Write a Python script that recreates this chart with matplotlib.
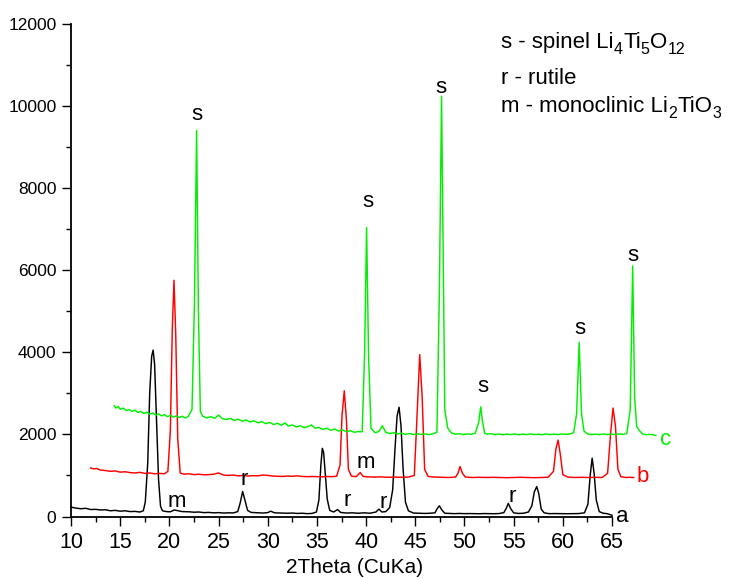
import matplotlib
matplotlib.use("Agg")
import matplotlib.pyplot as plt
from matplotlib.ticker import MultipleLocator

plt.rcParams['font.family'] = ['Liberation Sans', 'DejaVu Sans']

# ---- data ----
a_x = [10.0, 10.5, 11.0, 11.5, 12.0, 12.5, 13.0, 13.5, 14.0, 14.5, 15.0, 15.5, 16.0, 16.5, 17.0, 17.35,
       17.55, 17.8, 18.0, 18.2, 18.35, 18.5, 18.7, 18.9, 19.1, 19.3, 19.7, 20.1, 20.5, 20.9, 21.3,
       22.0, 22.5, 23.0, 23.5, 24.0, 24.5, 25.0, 25.5, 26.0, 26.5, 26.95, 27.2, 27.45, 27.7, 27.95, 28.3,
       29.0, 29.5, 30.0, 30.3, 30.7, 31.5, 32.0, 32.5, 33.0, 33.5, 34.0, 34.5, 34.95, 35.2, 35.4, 35.55,
       35.68, 35.85, 36.05, 36.3, 36.7, 37.1, 37.4, 38.0, 38.6, 39.2, 39.8, 40.4, 41.0, 41.3, 41.6, 42.0,
       42.4, 42.7, 42.95, 43.15, 43.35, 43.55, 43.75, 44.0, 44.3, 44.8, 45.5, 46.0, 46.5, 47.0, 47.25,
       47.45, 47.7, 48.0, 48.5, 49.0, 49.5, 50.0, 50.5, 51.0, 51.5, 52.0, 52.5, 53.0, 53.5, 54.0, 54.25,
       54.45, 54.7, 55.0, 55.5, 56.0, 56.5, 56.85, 57.1, 57.35, 57.55, 57.8, 58.1, 58.6, 59.2, 59.8, 60.4,
       61.0, 61.6, 62.2, 62.55, 62.78, 62.98, 63.18, 63.4, 63.7, 64.1, 64.5, 65.0]
a_y = [230, 205, 190, 200, 170, 175, 160, 165, 140, 150, 130, 140, 120, 125, 110, 140,
       350, 1300, 3000, 3900, 4050, 3700, 2300, 900, 250, 140, 120, 115, 160, 140, 120,
       115, 105, 110, 95, 100, 90, 95, 85, 90, 88, 120, 330, 610, 380, 150, 100,
       90, 85, 95, 130, 90, 85, 80, 85, 75, 80, 70, 75, 110, 400, 1250, 1660,
       1560, 1050, 420, 150, 110, 170, 100, 85, 90, 80, 90, 80, 110, 180, 110, 120,
       220, 650, 1700, 2450, 2660, 2200, 1200, 350, 140, 85, 80, 75, 80, 90, 200,
       260, 160, 80, 75, 70, 75, 70, 72, 70, 68, 72, 70, 68, 72, 95, 200,
       320, 190, 90, 75, 80, 110, 260, 600, 730, 560, 180, 90, 70, 72, 70, 68,
       70, 72, 90, 300, 1000, 1420, 1050, 400, 120, 80, 70, 30]

b_x = [12.0, 12.3, 12.6, 13.0, 13.5, 14.0, 14.5, 15.0, 15.5, 16.0, 16.5, 17.0, 17.5, 18.0, 18.5, 19.0,
       19.5, 19.85, 20.1, 20.3, 20.47, 20.65, 20.85, 21.1, 21.5, 22.0, 22.5, 23.0, 23.5, 24.0, 24.5, 25.0,
       25.5, 26.0, 26.5, 27.0, 27.5, 28.0, 28.5, 29.0, 29.5, 30.0, 30.5, 31.0, 31.5, 32.0, 32.5, 33.0, 33.5,
       34.0, 34.5, 35.0, 35.5, 36.0, 36.5, 37.0, 37.35, 37.55, 37.78, 38.0, 38.2, 38.5, 39.0, 39.4, 39.7,
       40.2, 40.8, 41.5, 42.2, 42.9, 43.6, 44.3, 44.9, 45.15, 45.45, 45.7, 45.95, 46.3, 47.0, 47.7, 48.4,
       49.1, 49.35, 49.55, 49.8, 50.1, 50.8, 51.5, 52.2, 52.9, 53.6, 54.3, 55.0, 55.7, 56.4, 57.1, 57.8,
       58.5, 59.05, 59.3, 59.52, 59.75, 60.0, 60.5, 61.2, 61.9, 62.6, 63.3, 64.0, 64.55, 64.85, 65.1,
       65.35, 65.6, 65.9, 66.4, 66.8, 67.2]
b_y = [1180, 1160, 1170, 1130, 1120, 1100, 1110, 1080, 1090, 1070, 1060, 1075, 1050, 1060, 1040, 1050,
       1040, 1100, 2100, 4600, 5750, 4400, 1900, 1060, 1030, 1040, 1020, 1030, 1015, 1020, 1030, 1060,
       1010, 1000, 1010, 990, 1000, 985, 995, 990, 1010, 1000, 985, 980, 975, 985, 980, 990, 975,
       970, 975, 970, 965, 975, 970, 980, 1250, 2450, 3060, 2350, 1150, 985, 970, 1070, 975,
       965, 960, 965, 955, 960, 955, 960, 1000, 2300, 3940, 2900, 1150, 975, 960, 955, 950,
       960, 1060, 1215, 1050, 960, 950, 955, 950, 955, 950, 945, 950, 955, 950, 945, 950,
       955, 1100, 1650, 1860, 1500, 1020, 960, 950, 955, 950, 955, 950, 1050, 2000, 2640,
       2200, 1150, 970, 950, 955, 950]

c_x = [14.4, 14.55, 14.8, 15.0, 15.3, 15.6, 15.9, 16.2, 16.5, 16.8, 17.1, 17.4, 17.7, 18.0, 18.3, 18.6,
       18.9, 19.2, 19.5, 19.8, 20.1, 20.4, 20.7, 21.0, 21.3, 21.6, 21.9, 22.3, 22.55, 22.77, 22.95, 23.15,
       23.4, 23.8, 24.2, 24.6, 25.0, 25.4, 25.8, 26.2, 26.6, 27.0, 27.4, 27.8, 28.2, 28.6, 29.0, 29.4,
       29.8, 30.2, 30.6, 31.0, 31.4, 31.75, 32.1, 32.5, 32.9, 33.3, 33.7, 34.1, 34.45, 34.8, 35.2, 35.6,
       36.0, 36.4, 36.8, 37.2, 37.6, 38.0, 38.4, 38.8, 39.2, 39.6, 39.85, 40.05, 40.25, 40.5, 40.9, 41.3,
       41.65, 42.0, 42.4, 42.8, 43.2, 43.6, 44.0, 44.4, 44.8, 45.2, 45.6, 46.0, 46.4, 46.8, 47.2, 47.45,
       47.67, 47.85, 48.0, 48.3, 48.7, 49.1, 49.5, 49.9, 50.3, 50.7, 51.1, 51.45, 51.65, 51.84, 52.05, 52.3,
       52.7, 53.1, 53.5, 53.9, 54.3, 54.7, 55.1, 55.5, 55.9, 56.3, 56.7, 57.1, 57.5, 57.9, 58.3, 58.7,
       59.1, 59.5, 59.9, 60.3, 60.7, 61.1, 61.4, 61.66, 61.9, 62.15, 62.5, 62.9, 63.3, 63.7, 64.1, 64.5,
       64.9, 65.3, 65.7, 66.1, 66.5, 66.85, 67.1, 67.3, 67.5, 67.75, 68.1, 68.5, 68.9, 69.2, 69.45]
c_y = [2700, 2640, 2680, 2610, 2640, 2580, 2600, 2560, 2590, 2530, 2560, 2510, 2540, 2490, 2520, 2470,
       2500, 2450, 2480, 2430, 2460, 2420, 2450, 2410, 2440, 2400, 2430, 2600, 5200, 9400, 5000, 2550,
       2440, 2400, 2430, 2390, 2470, 2380, 2360, 2390, 2340, 2370, 2320, 2350, 2300, 2330, 2280, 2310,
       2260, 2290, 2240, 2270, 2220, 2280, 2200, 2230, 2180, 2210, 2160, 2190, 2230, 2150, 2170, 2120,
       2150, 2100, 2130, 2080, 2110, 2060, 2090, 2050, 2070, 2060, 4000, 7030, 3900, 2150, 2040, 2070,
       2210, 2050, 2020, 2040, 2010, 2030, 2000, 2020, 1995, 2015, 2000, 2010, 1995, 2015, 2050, 5500,
       10230, 6000, 2600, 2150, 2030, 2005, 2015, 1995, 2010, 2000, 2030, 2300, 2670, 2300, 2030, 2005,
       2015, 1995, 2010, 1990, 2005, 1995, 2010, 1990, 2005, 1995, 2010, 1995, 2005, 1990, 2010, 1995,
       2005, 1995, 2010, 2000, 2010, 2040, 2500, 4240, 2500, 2080, 2010, 1995, 2005, 1995, 2010, 1995,
       2005, 1995, 2010, 2000, 2020, 2600, 6100, 2900, 2200, 2100, 2010, 1990, 2000, 1985, 1975]

x_ticks = [10, 15, 20, 25, 30, 35, 40, 45, 50, 55, 60, 65]
y_ticks = [0, 2000, 4000, 6000, 8000, 10000, 12000]

# peak labels: (x, baseline y, text)
peak_labels = [(22.84, 9643, 's'), (40.21, 7540, 's'), (47.6, 10308, 's'), (51.84, 3038, 's'),
               (61.73, 4435, 's'), (67.14, 6219, 's'),
               (27.58, 767, 'r'), (38.08, 255, 'r'), (41.74, 200, 'r'), (54.88, 360, 'r'),
               (20.8, 230, 'm'), (39.94, 1173, 'm')]
curve_labels = [(66.05, -126, 'a', 'black'), (68.08, 847, 'b', 'red'), (70.45, 1740, 'c', '#00f000')]

# legend lines as (text, is_subscript) pieces
legend_lines = [
    [("s - spinel Li", False), ("4", True), ("Ti", False), ("5", True), ("O", False), ("12", True)],
    [("r - rutile", False)],
    [("m - monoclinic Li", False), ("2", True), ("TiO", False), ("3", True)],
]

GREEN = '#00f000'

# ---- figure ----
fig = plt.figure(figsize=(7.32, 5.79), dpi=100)
ax = fig.add_axes([0.0970, 0.1079, 0.7391, 0.8515])

ax.plot(a_x, a_y, color='black', lw=1.05, clip_on=False)
ax.plot(b_x, b_y, color='#ff0000', lw=1.05, clip_on=False)
ax.plot(c_x, c_y, color=GREEN, lw=1.05, clip_on=False)

ax.set_xlim(10, 65)
ax.set_ylim(0, 12000)
ax.set_xticks(x_ticks)
ax.set_yticks(y_ticks)
ax.xaxis.set_minor_locator(MultipleLocator(2.5))
ax.yaxis.set_minor_locator(MultipleLocator(1000))
ax.tick_params(axis='x', which='major', direction='out', length=6.5, width=1.0, labelsize=15.5, pad=4.5)
ax.tick_params(axis='y', which='major', direction='out', length=6.5, width=1.0, labelsize=12.5, pad=4)
ax.tick_params(which='minor', direction='out', length=3.6, width=1.0)
for s in ['top', 'right']:
    ax.spines[s].set_visible(False)
for s in ['left', 'bottom']:
    ax.spines[s].set_linewidth(1.3)

for x, y, t in peak_labels:
    ax.text(x, y, t, ha='center', va='baseline', fontsize=16, clip_on=False)
for x, y, t, c in curve_labels:
    ax.text(x, y, t, ha='center', va='baseline', fontsize=16, color=c, clip_on=False)

fig.canvas.draw()
renderer = fig.canvas.get_renderer()
for pieces, py in zip(legend_lines, [48, 84, 112]):
    xpx = 501.0
    base = 579 - py
    for txt, sub in pieces:
        fs = 11.5 if sub else 16
        ypx = base - (6.5 if sub else 0)
        t = fig.text(xpx / 732, ypx / 579, txt, ha='left', va='baseline', fontsize=fs)
        bb = t.get_window_extent(renderer)
        xpx = bb.x1 + (0.5 if sub else 0)

fig.text(354.5 / 732, 1 - 573 / 579, "2Theta (CuKa)", ha='center', va='baseline', fontsize=15)

fig.savefig("out.png", dpi=100)
